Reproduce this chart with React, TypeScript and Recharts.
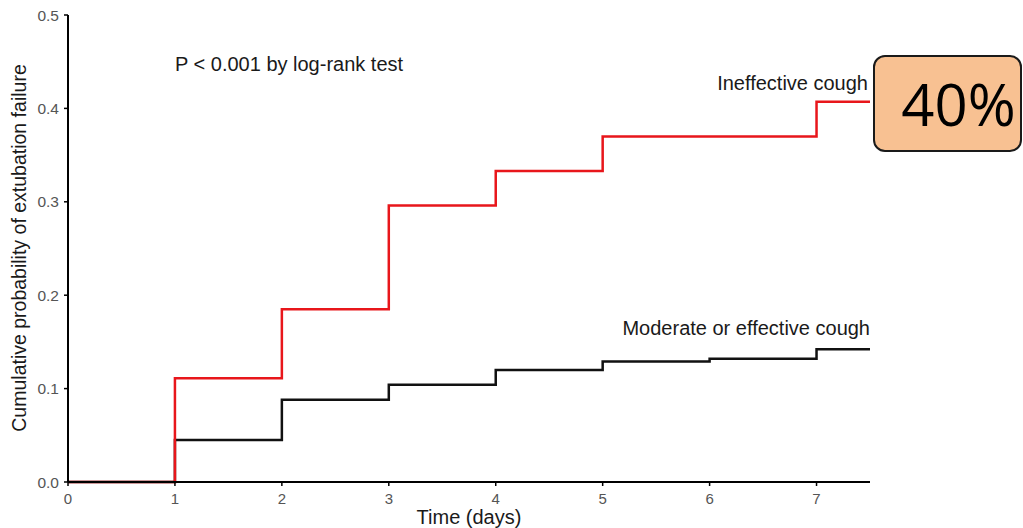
import { LineChart, Line, XAxis, YAxis, Customized } from 'recharts';

const days = [0, 1, 2, 3, 4, 5, 6, 7, 7.5];
const ineffective = [0, 0.111, 0.185, 0.296, 0.333, 0.37, 0.37, 0.407, 0.407];
const moderate = [0, 0.045, 0.088, 0.104, 0.12, 0.129, 0.132, 0.142, 0.142];
const xTicks = [0, 1, 2, 3, 4, 5, 6, 7];
const yTicks = [0, 0.1, 0.2, 0.3, 0.4, 0.5];

const data = days.map((d, i) => ({
  day: d,
  ineffective: ineffective[i],
  moderate: moderate[i],
}));

const font = '"Liberation Sans", Arial, Helvetica, sans-serif';

const Notes = () => (
  <g fontFamily={font} fill="#1a1a1a" fontSize={20}>
    <text x={175} y={71}>P &lt; 0.001 by log-rank test</text>
    <text x={868} y={90} textAnchor="end">Ineffective cough</text>
    <text x={870} y={335} textAnchor="end">Moderate or effective cough</text>
    <text x={469} y={524} textAnchor="middle">Time (days)</text>
    <text
      x={26}
      y={248}
      textAnchor="middle"
      fontSize={19.5}
      transform="rotate(-90 26 248)"
    >
      Cumulative probability of extubation failure
    </text>
  </g>
);

export default function App() {
  return (
    <div style={{ position: 'absolute', left: 0, top: 0, width: 1023, height: 528, background: '#fff' }}>
      <LineChart
        width={1023}
        height={528}
        data={data}
        margin={{ top: 15, right: 153, bottom: 0, left: 0 }}
      >
        <XAxis
          dataKey="day"
          type="number"
          domain={[0, 7.5]}
          ticks={xTicks}
          allowDataOverflow
          height={46}
          axisLine={{ stroke: '#000', strokeWidth: 2 }}
          tickLine={{ stroke: '#000', strokeWidth: 1.5 }}
          tickSize={4}
          tickMargin={7}
          tick={{ fill: '#555', fontSize: 15, fontFamily: font }}
        />
        <YAxis
          type="number"
          domain={[0, 0.5]}
          ticks={yTicks}
          width={68}
          tickFormatter={(v: number) => v.toFixed(1)}
          axisLine={{ stroke: '#000', strokeWidth: 2 }}
          tickLine={{ stroke: '#000', strokeWidth: 1.5 }}
          tickSize={4}
          tickMargin={5}
          tick={{ fill: '#555', fontSize: 15.5, fontFamily: font }}
        />
        <Line
          type="stepAfter"
          dataKey="moderate"
          stroke="#111"
          strokeWidth={2.5}
          dot={false}
          isAnimationActive={false}
        />
        <Line
          type="stepAfter"
          dataKey="ineffective"
          stroke="#e8161b"
          strokeWidth={2.5}
          dot={false}
          isAnimationActive={false}
        />
        <Customized component={Notes} />
      </LineChart>
      <div
        style={{
          position: 'absolute',
          left: 873,
          top: 55,
          width: 145,
          height: 93,
          border: '2px solid #1a1a1a',
          borderRadius: 12,
          background: '#f8c192',
          boxSizing: 'content-box',
          fontFamily: '"Open Sans", "Noto Sans", sans-serif',
          fontSize: 58,
          lineHeight: '93px',
          color: '#000',
          textAlign: 'center',
        }}
      >
        <span style={{ marginLeft: 22 }}>40%</span>
      </div>
    </div>
  );
}
